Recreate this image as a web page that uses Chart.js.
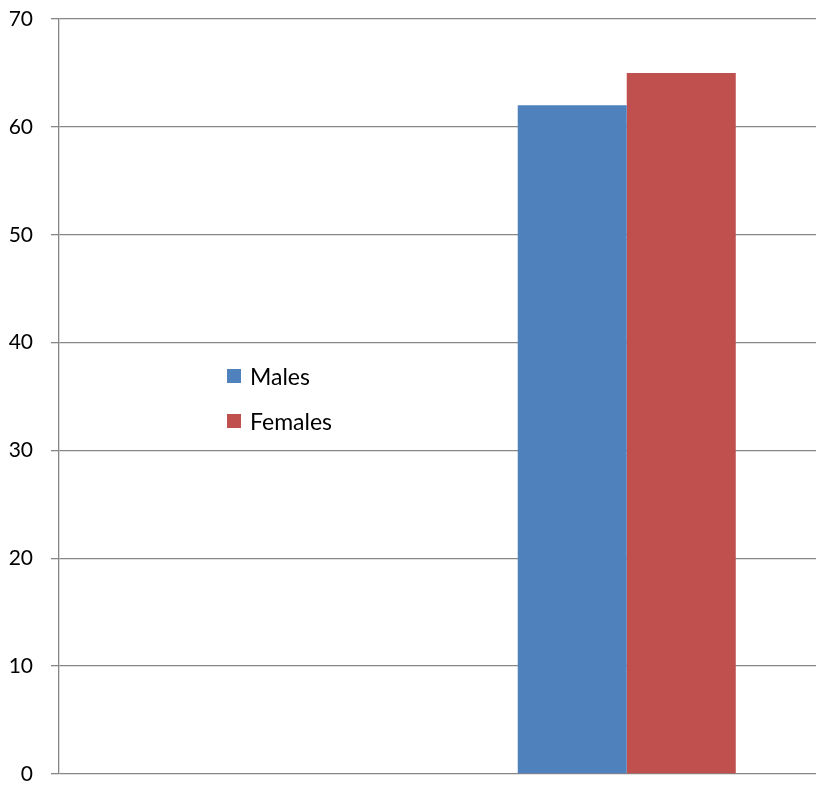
<!DOCTYPE html>
<html>
 <head>
  <title>Males / Females</title>
  <style>
  body {
   margin: 0;
   background: #fff;
   font-family: Lato, sans-serif;
  }
  #wrap {
   position: relative;
   width: 817px;
   height: 793px;
  }
  #chart {
   position: absolute;
   left: 0;
   top: 0;
  }
  #legend {
   position: absolute;
   left: 227px;
   top: 353px;
   font-size: 23px;
   color: #000;
  }
  #legend div {
   height: 45px;
   display: flex;
   align-items: center;
  }
  #legend span {
   display: inline-block;
   width: 14px;
   height: 14px;
   margin-right: 9px;
  }
  </style>
 </head>
 <body>
 <div id="wrap">
  <canvas id="chart" width="817" height="793"></canvas>
  <div id="legend"></div>
 </div>
 <script src="https://cdn.jsdelivr.net/npm/chart.js@4.4.0/dist/chart.umd.min.js"></script>
 <script type="text/javascript">
 // Data: two categories, only the second one has values
 const categories = ['', ''];
 const males = [null, 62];
 const females = [null, 65];
 const yTicks = [0, 10, 20, 30, 40, 50, 60, 70];

 const gridColor = '#868686';
 // where the 0 and 70 gridlines sit in the picture
 const plotTop = 17, plotBottom = 779;

 const ctx = document.getElementById('chart').getContext('2d');
 const chart = new Chart(ctx, {
   type: 'bar',
   data: {
     labels: categories,
     datasets: [
       { label: 'Males', data: males, backgroundColor: '#4F81BD' },
       { label: 'Females', data: females, backgroundColor: '#C0504D' }
     ]
   },
   options: {
     responsive: false,
     animation: false,
     layout: { autoPadding: false, padding: { top: 17, right: 1, left: 0, bottom: 14 } },
     datasets: {
       bar: { categoryPercentage: 0.576, barPercentage: 1, borderWidth: 0 }
     },
     plugins: {
       legend: { display: false },
       tooltip: { enabled: false }
     },
     scales: {
       x: {
         display: false
       },
       y: {
         min: yTicks[0],
         max: yTicks[yTicks.length - 1],
         afterBuildTicks: function(scale) { scale.ticks = yTicks.map(v => ({ value: v })); },
         grid: { color: gridColor, lineWidth: 1.3, tickLength: 8 },
         border: { display: true, color: gridColor, width: 1.3 },
         ticks: {
           padding: 18,
           color: '#000',
           font: { family: 'Lato', size: 21, lineHeight: 0.1 }
         },
         afterFit: function(scale) { scale.width = 59; }
       }
     }
   }
 });

 // nudge the padding so the y scale lands where it does in the picture
 for (let i = 0; i < 3; i++) {
   const pad = chart.options.layout.padding;
   const y = chart.scales.y;
   pad.top += plotTop - y.getPixelForValue(yTicks[yTicks.length - 1]);
   pad.bottom += y.getPixelForValue(yTicks[0]) - plotBottom;
   chart.update();
 }

 // Legend sits inside the plot area, built from the datasets
 const legend = document.getElementById('legend');
 chart.data.datasets.forEach(ds => {
   const row = document.createElement('div');
   const box = document.createElement('span');
   box.style.background = ds.backgroundColor;
   row.appendChild(box);
   row.appendChild(document.createTextNode(ds.label));
   legend.appendChild(row);
 });
 </script>
 </body>
</html>
